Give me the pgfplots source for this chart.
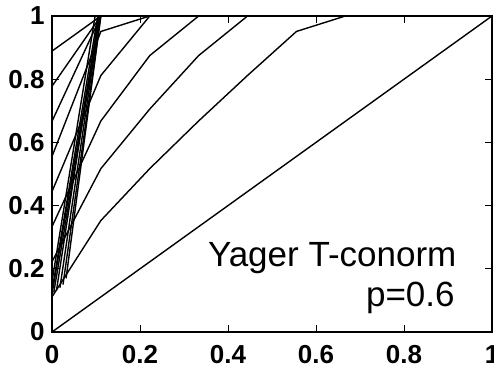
\documentclass[border=0pt]{standalone}
\usepackage{pgfplots}
\pgfplotsset{compat=1.18}
\usepackage{fontspec}
\setmainfont{Liberation Sans}
\begin{document}
\begin{tikzpicture}
\begin{axis}[
  scale only axis, width=440bp, height=316bp,
  xmin=0, xmax=1, ymin=0, ymax=1,
  xtick={0,0.2,0.4,0.6,0.8,1}, xticklabels={0,0.2,0.4,0.6,0.8,1},
  ytick={0,0.2,0.4,0.6,0.8,1}, yticklabels={0,0.2,0.4,0.6,0.8,1},
  tick align=inside, tick pos=both, major tick length=7bp,
  every tick/.style={black, line width=1bp},
  axis line style={line width=1.2bp},
  /pgf/number format/assume math mode=true,
  ticklabel style={font=\fontsize{26bp}{30bp}\selectfont\bfseries},
  xticklabel style={yshift=-10bp},
  yticklabel style={xshift=-4bp},
  every axis plot post/.append style={black, solid, mark=none, line width=1.4bp},
]
% Curves S(x,b) for b = 0, 1/9, ..., 1 (x sampled at k/9)
\addplot coordinates {(0,0) (1,1)};
\addplot coordinates {(0,0.1111) (0.1111,0.3528) (0.2222,0.5171) (0.3333,0.6679) (0.4444,0.8118) (0.5556,0.9511) (0.6667,1) (1,1)};
\addplot coordinates {(0,0.2222) (0.1111,0.5171) (0.2222,0.7056) (0.3333,0.8748) (0.4444,1) (1,1)};
\addplot coordinates {(0,0.3333) (0.1111,0.6679) (0.2222,0.8748) (0.3333,1) (1,1)};
\addplot coordinates {(0,0.4444) (0.1111,0.8118) (0.2222,1) (1,1)};
\addplot coordinates {(0,0.5556) (0.1111,0.9511) (0.2222,1) (1,1)};
\addplot coordinates {(0,0.6667) (0.1111,1) (1,1)};
\addplot coordinates {(0,0.7778) (0.1111,1) (1,1)};
\addplot coordinates {(0,0.8889) (0.1111,1) (1,1)};
% steep fan lines
\addplot coordinates {(0,0.12) (0.108,1)};
\addplot coordinates {(0,0.13) (0.104,1)};
\addplot coordinates {(0,0.16) (0.098,1)};
\addplot coordinates {(0.004,0.125) (0.110,1)};
\addplot coordinates {(0.010,0.13) (0.106,1)};
\addplot coordinates {(0.018,0.14) (0.109,1)};
\addplot coordinates {(0.025,0.15) (0.111,1)};
\addplot coordinates {(0.032,0.17) (0.111,1)};
\node[anchor=base east, font=\fontsize{35bp}{40bp}\selectfont] at (axis cs:0.927,0.206) {Yager T-conorm};
\node[anchor=base east, font=\fontsize{35bp}{40bp}\selectfont] at (axis cs:0.923,0.082) {p=0.6};
\end{axis}
\pgfresetboundingbox
\path[use as bounding box] (-52bp,-42bp) rectangle (442bp,332bp);
\end{tikzpicture}
\end{document}
